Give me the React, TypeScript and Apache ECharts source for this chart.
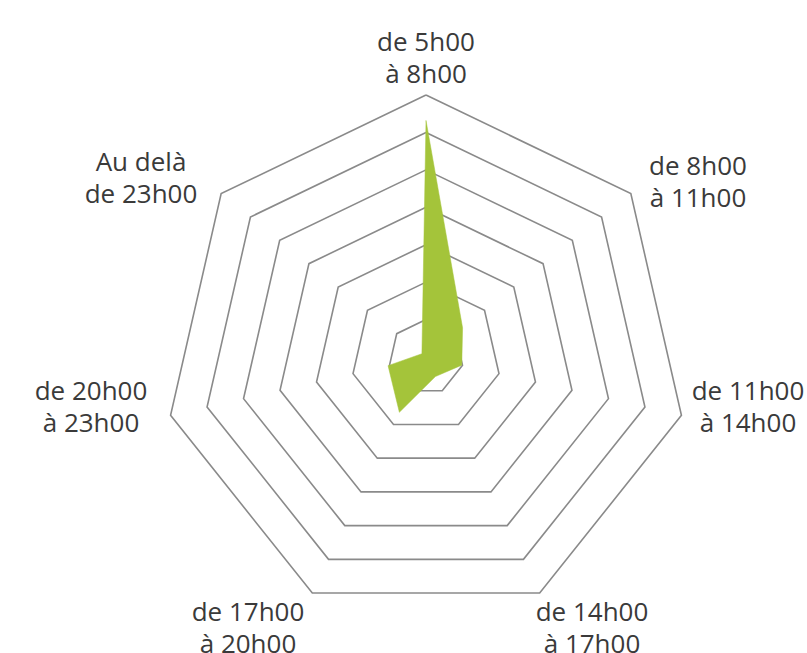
import React, { useEffect, useRef } from "react";
import * as echarts from "echarts";

// Time slots, listed clockwise starting from the top
const slots: string[] = [
  "de 5h00\nà 8h00",
  "de 8h00\nà 11h00",
  "de 11h00\nà 14h00",
  "de 14h00\nà 17h00",
  "de 17h00\nà 20h00",
  "de 20h00\nà 23h00",
  "Au delà\nde 23h00",
];

// Values in ring units (7 rings)
const values: number[] = [6.32, 1.25, 0.98, 0.58, 1.64, 1.04, 0.14];

const axisMax = 7;
const ringCount = 7;

// label anchor positions (centre of each two-line block)
const labelPos: [number, number][] = [
  [426, 57],
  [698, 181],
  [748, 406],
  [592, 627],
  [248, 627],
  [91, 406],
  [141, 177],
];

export default function App() {
  const ref = useRef<HTMLDivElement>(null);

  useEffect(() => {
    if (!ref.current) return;
    const chart = echarts.init(ref.current, undefined, { renderer: "svg" });

    // ECharts places indicators counter-clockwise; reorder so they read clockwise
    const order = [0, ...Array.from({ length: slots.length - 1 }, (_, i) => slots.length - 1 - i)];
    const indicator = order.map((i) => ({ name: slots[i], max: axisMax, min: 0 }));
    const data = order.map((i) => values[i]);

    const lineGap = 32;
    const graphics: any[] = [];
    slots.forEach((s, i) => {
      const lines = s.split("\n");
      lines.forEach((ln, j) => {
        graphics.push({
          type: "text",
          x: labelPos[i][0],
          y: labelPos[i][1] + (j - (lines.length - 1) / 2) * lineGap,
          silent: true,
          style: {
            text: ln,
            fill: "#3a3a3a",
            fontFamily: "Open Sans",
            fontSize: 26,
            lineHeight: 28,
            align: "center",
            verticalAlign: "middle",
          },
        });
      });
    });

    chart.setOption({
      animation: false,
      backgroundColor: "#ffffff",
      radar: {
        center: [426, 357],
        radius: 262,
        shape: "polygon",
        splitNumber: ringCount,
        startAngle: 90,
        indicator,
        axisName: { show: false },
        axisLine: { show: false },
        axisTick: { show: false },
        axisLabel: { show: false },
        splitArea: { show: false },
        splitLine: { lineStyle: { color: "#8a8a8a", width: 1.6 } },
      },
      graphic: graphics,
      series: [
        {
          type: "radar",
          symbol: "none",
          silent: true,
          data: [
            {
              value: data,
              name: "Répartition",
              lineStyle: { width: 0.5, color: "#a4c43a" },
              areaStyle: { color: "#a4c43a", opacity: 1 },
            },
          ],
        },
      ],
    });

    return () => chart.dispose();
  }, []);

  return (
    <div
      ref={ref}
      style={{ position: "absolute", left: 0, top: 0, width: 807, height: 653 }}
    />
  );
}
